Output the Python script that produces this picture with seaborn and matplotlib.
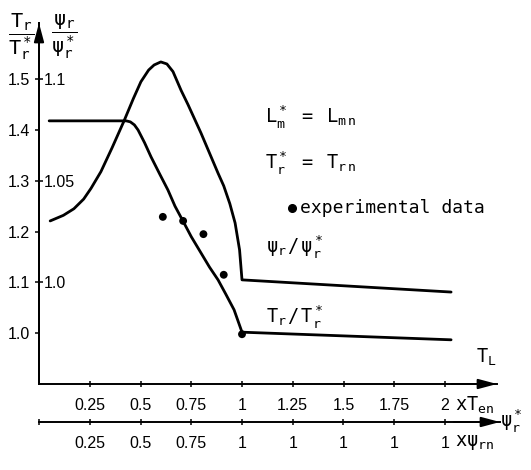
import matplotlib
matplotlib.use("Agg")
import matplotlib.pyplot as plt
from matplotlib.lines import Line2D
import numpy as np
import pandas as pd
import seaborn as sns

# ---------------- data (T_r/T_r* scale) ----------------
psi_x = [0.055, 0.12, 0.172, 0.22, 0.256, 0.305, 0.36, 0.419, 0.465, 0.502,
         0.54, 0.567, 0.60, 0.63, 0.66, 0.70, 0.734, 0.798, 0.882, 0.91,
         0.94, 0.966, 0.988, 1.0, 2.03]
psi_y = [1.221, 1.232, 1.245, 1.264, 1.285, 1.318, 1.365, 1.418, 1.462, 1.495,
         1.518, 1.528, 1.534, 1.530, 1.515, 1.478, 1.450, 1.394, 1.315, 1.290,
         1.255, 1.217, 1.164, 1.105, 1.081]

tr_x = [0.05, 0.43, 0.45, 0.47, 0.488, 0.52, 0.552, 0.595, 0.635, 0.67, 0.709,
        0.75, 0.798, 0.84, 0.882, 0.92, 0.961, 1.0, 2.03]
tr_y = [1.418, 1.418, 1.416, 1.410, 1.400, 1.375, 1.347, 1.313, 1.282, 1.250,
        1.221, 1.190, 1.158, 1.130, 1.105, 1.077, 1.046, 1.002, 0.987]

exp_x = [0.61, 0.71, 0.81, 0.91, 1.0]
exp_y = [1.229, 1.221, 1.195, 1.115, 0.998]

x_ticks = [0.25, 0.5, 0.75, 1.0, 1.25, 1.5, 1.75, 2.0]
x_labels = ["0.25", "0.5", "0.75", "1", "1.25", "1.5", "1.75", "2"]
x2_labels = ["0.25", "0.5", "0.75", "1", "1", "1", "1", "1"]
y_ticks = [1.0, 1.1, 1.2, 1.3, 1.4, 1.5]
y_labels = ["1.0", "1.1", "1.2", "1.3", "1.4", "1.5"]
psi_ticks = [1.0, 1.05, 1.1]
psi_labels = ["1.0", "1.05", "1.1"]

# ---------------- style ----------------
sns.set_style("ticks")
plt.rcParams.update({
    "font.family": ["Liberation Sans", "DejaVu Sans"],
    "mathtext.fontset": "custom",
    "mathtext.rm": "DejaVu Sans Mono",
    "mathtext.it": "DejaVu Sans Mono",
    "mathtext.bf": "DejaVu Sans Mono",
    "mathtext.sf": "DejaVu Sans Mono",
    "mathtext.default": "rm",
    "axes.edgecolor": "black",
    "xtick.color": "black",
    "ytick.color": "black",
    "text.color": "black",
})

W, H = 531, 470
fig = plt.figure(figsize=(W / 100, H / 100), dpi=100)
fig.patch.set_facecolor("white")

def fx(x):
    return x / W

def fy(y):
    return 1 - y / H

LW = 1.4
ax = fig.add_axes([39 / W, (H - 384) / H, 458 / W, 361 / H])
ax.set_facecolor("none")

df_psi = pd.DataFrame({"x": psi_x, "y": psi_y})
df_tr = pd.DataFrame({"x": tr_x, "y": tr_y})
df_exp = pd.DataFrame({"x": exp_x, "y": exp_y})

sns.lineplot(data=df_psi, x="x", y="y", sort=False, estimator=None,
             color="black", lw=2.0, ax=ax)
sns.lineplot(data=df_tr, x="x", y="y", sort=False, estimator=None,
             color="black", lw=2.0, ax=ax)
sns.scatterplot(data=df_exp, x="x", y="y", color="black", s=32,
                edgecolor="none", ax=ax, zorder=5)

ax.set_xlim(0, 458 / 203)
ax.set_ylim(0.9, 0.9 + 361 / 508)
ax.set_xlabel("")
ax.set_ylabel("")
for s in ["top", "right"]:
    ax.spines[s].set_visible(False)
for s in ["left", "bottom"]:
    ax.spines[s].set_linewidth(LW)

ax.set_xticks(x_ticks, labels=x_labels)
ax.set_yticks(y_ticks, labels=y_labels)
ax.tick_params(axis="x", direction="inout", length=5, width=1.1, pad=7.5,
               labelsize=11.5)
ax.tick_params(axis="y", direction="out", length=3, width=1.1, pad=3.5,
               labelsize=11.5)

# secondary psi scale on the right of the left spine
sec = ax.secondary_yaxis(0, functions=(lambda t: 1 + (t - 1.1) * 0.25,
                                       lambda p: 1.1 + (p - 1) * 4))
sec.set_alignment("right")
sec.set_yticks(psi_ticks, labels=psi_labels)
sec.tick_params(axis="y", direction="out", length=3, width=1.1, pad=0.5,
                labelsize=11.5)
for s in sec.spines.values():
    s.set_linewidth(LW)

# arrow heads
arrow = dict(arrowstyle="-|>,head_length=0.75,head_width=0.2", color="black",
             lw=LW, mutation_scale=15, shrinkA=0, shrinkB=0)
ax.annotate("", xy=(1, 0), xycoords="axes fraction", xytext=(0.9, 0),
            arrowprops=arrow, annotation_clip=False)
ax.annotate("", xy=(0, 1), xycoords="axes fraction", xytext=(0, 0.9),
            arrowprops=arrow, annotation_clip=False)

# second x axis (psi_r*)
axb = fig.add_axes([39 / W, (H - 422) / H, 461 / W, 0.0001])
axb.set_facecolor("none")
axb.set_xlim(0, 461 / 203)
axb.set_yticks([])
for s in ["top", "right", "left"]:
    axb.spines[s].set_visible(False)
axb.spines["bottom"].set_linewidth(LW)
axb.set_xticks([0.0] + x_ticks, labels=[""] + x2_labels)
axb.tick_params(axis="x", direction="inout", length=5, width=1.1, pad=7.5,
                labelsize=11.5)
axb.annotate("", xy=(1, 0), xycoords="axes fraction", xytext=(0.9, 0),
             arrowprops=arrow, annotation_clip=False)

# ---------------- text annotations ----------------
fs = 13.5
fig.text(fx(21), fy(37), r"$\dfrac{T_r}{T_r^*}$", ha="center", va="center", size=14.5)
fig.text(fx(64), fy(37), r"$\dfrac{\psi_r}{\psi_r^*}$", ha="center", va="center", size=14.5)

fig.text(fx(265), fy(117), r"$L_m^*\quad=\quad L_{m\,n}$", ha="left", va="center", size=fs)
fig.text(fx(265), fy(163), r"$T_r^*\quad=\quad T_{r\,n}$", ha="left", va="center", size=fs)
fig.add_artist(Line2D([fx(292)], [fy(208)], marker="o", ms=5.5, color="black",
                      transform=fig.transFigure))
fig.text(fx(300), fy(208), "experimental data", ha="left", va="center",
         size=13, family="DejaVu Sans Mono")
fig.text(fx(266), fy(247), r"$\psi_r\,/\,\psi_r^*$", ha="left", va="center", size=fs)
fig.text(fx(266), fy(317), r"$T_r\,/\,T_r^*$", ha="left", va="center", size=fs)
fig.text(fx(476), fy(357), r"$T_L$", ha="left", va="center", size=fs)

fig.text(fx(455), fy(405), r"$\mathrm{xT_{en}}$", ha="left", va="center", size=fs)
fig.text(fx(455), fy(443), r"$\mathrm{x\psi_{rn}}$", ha="left", va="center", size=fs)
fig.text(fx(500), fy(421), r"$\psi_r^*$", ha="left", va="center", size=fs)

fig.savefig("out.png", dpi=100, facecolor="white")
